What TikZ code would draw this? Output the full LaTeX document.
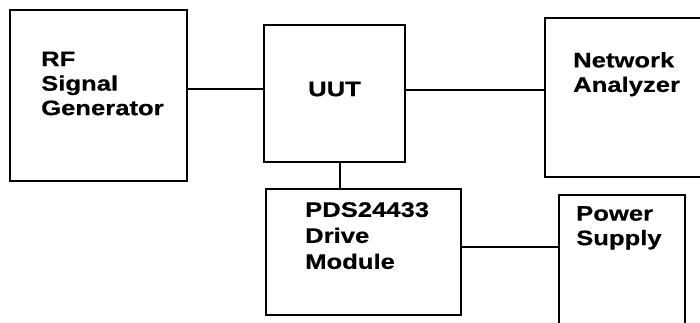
\documentclass[tikz,border=0pt]{standalone}
\usepackage{fontspec}
\newfontfamily\hfont[FakeStretch=1.22,FakeBold=0.5]{Liberation Sans}
\begin{document}
\begin{tikzpicture}[x=1pt,y=-1pt,
  box/.style={draw, line width=1.9pt, inner sep=0pt},
  lbl/.style={font=\hfont\bfseries\fontsize{21}{24.5}\selectfont, align=left, anchor=north west, inner sep=0pt},
  wire/.style={line width=2.8pt}]
\useasboundingbox (0,0) rectangle (700,323);
% boxes
\node[box, minimum width=177pt, minimum height=171pt] (rf)  at (98.5,95.5) {};
\node[box, minimum width=141pt, minimum height=137pt] (uut) at (334.5,93.5) {};
\node[box, minimum width=175pt, minimum height=159pt] (na)  at (632.5,97.5) {};
\node[box, minimum width=195pt, minimum height=126pt] (pds) at (363.5,252) {};
\node[box, minimum width=126pt, minimum height=145pt] (ps)  at (622,267.5) {};
% labels
\node[lbl] (rft)  at (41,51.5)  {RF\\Signal\\Generator};
\node[lbl] (uutt) at (308,81.5) {UUT};
\node[lbl] (nat)  at (573,52) {Network\\Analyzer};
\node[lbl, font=\hfont\bfseries\fontsize{21}{26}\selectfont] (pdst) at (305,202) {PDS24433\\Drive\\Module};
\node[lbl] (pst)  at (576,206) {Power\\Supply};
% connectors
\draw[wire] ([yshift=4.5pt]uut.west) -- ([yshift=4.5pt]uut.west -| rf.east);
\draw[wire] ([yshift=3.5pt]uut.east) -- ([yshift=3.5pt]uut.east -| na.west);
\draw[wire] ([xshift=5.5pt]uut.south) -- ([xshift=5.5pt]uut.south |- pds.north);
\draw[wire] ([yshift=5pt]pds.east) -- ([yshift=5pt]pds.east -| ps.west);
\end{tikzpicture}
\end{document}
